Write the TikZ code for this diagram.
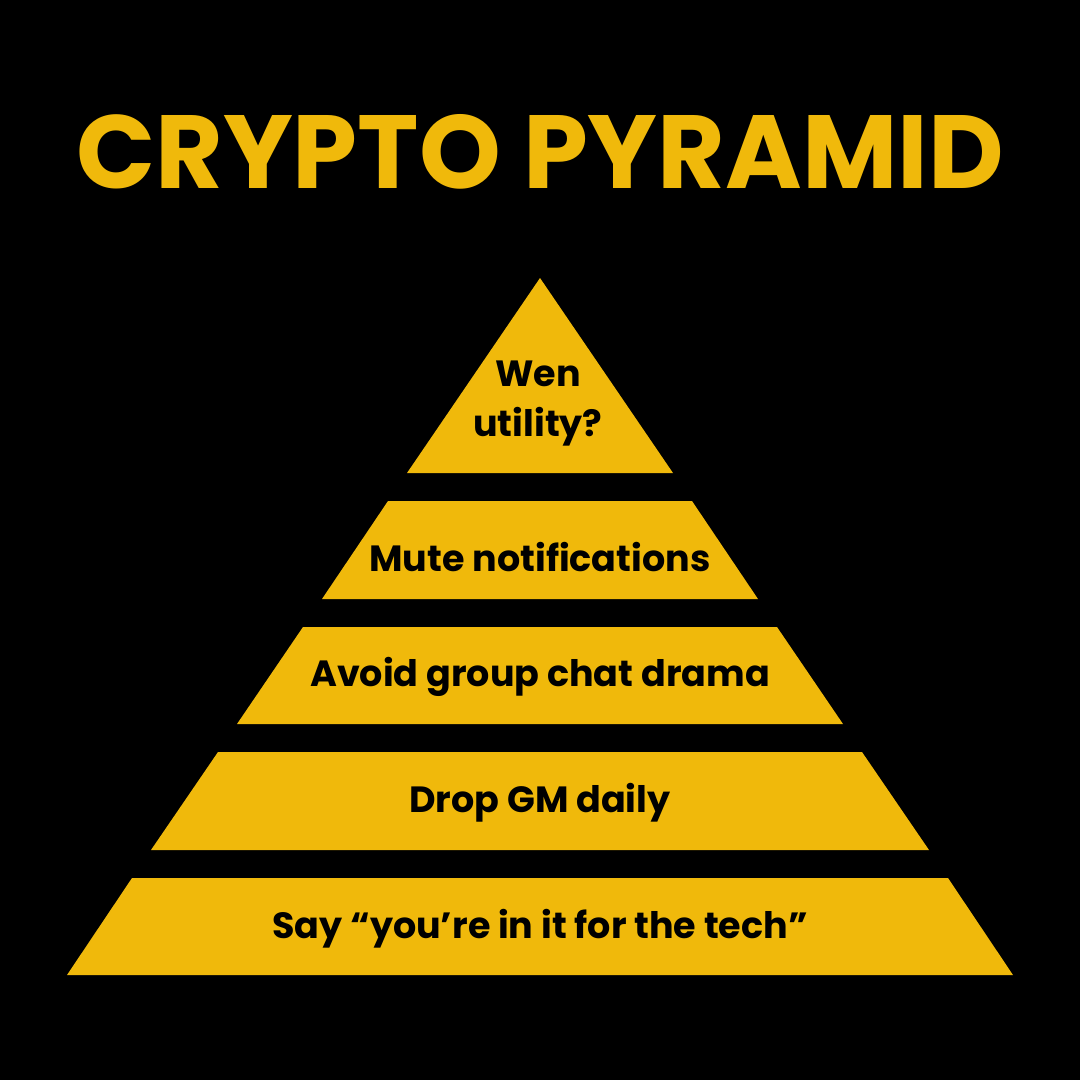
\documentclass[tikz,border=0pt]{standalone}
\usepackage{fontspec}
\setmainfont{Poppins}
\definecolor{gold}{HTML}{F0B90B}
\begin{document}
\begin{tikzpicture}[x=1pt,y=-1pt,
  tier/.style={fill=gold,draw=none},
  lbl/.style={text=black,font=\fontsize{36.5}{40}\selectfont\bfseries,align=center}]
\fill[black] (0,0) rectangle (1080,1080);
\useasboundingbox (0,0) rectangle (1080,1080);
\node[text=gold,font=\fontsize{104}{110}\selectfont\bfseries] (title) at (540,152) {CRYPTO PYRAMID};
\fill[tier] (540,278) -- (673,473) -- (407,473) -- cycle;
\fill[tier] (388,501) -- (692,501) -- (758,599) -- (322,599) -- cycle;
\fill[tier] (303,627) -- (777,627) -- (843,724) -- (237,724) -- cycle;
\fill[tier] (218,752) -- (862,752) -- (929,850) -- (151,850) -- cycle;
\fill[tier] (132,878) -- (948,878) -- (1013,975) -- (67,975) -- cycle;
\node[lbl,font=\fontsize{36.5}{50}\selectfont\bfseries] (t1) at (538,404) {Wen\\utility?};
\node[lbl] (t2) at (540,557) {Mute notifications};
\node[lbl] (t3) at (540,677) {Avoid group chat drama};
\node[lbl] (t4) at (540,803) {Drop GM daily};
\node[lbl] (t5) at (540,929) {Say “you’re in it for the tech”};
\end{tikzpicture}
\end{document}
